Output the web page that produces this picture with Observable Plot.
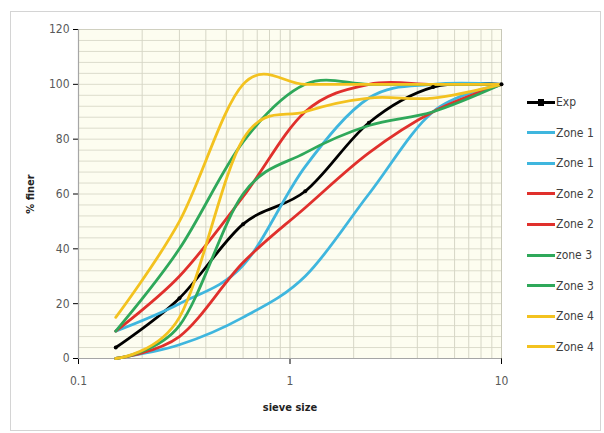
<!DOCTYPE html>
<html>
<head>
<meta charset="utf-8">
<script src="https://cdn.jsdelivr.net/npm/d3@7"></script>
<script src="https://cdn.jsdelivr.net/npm/@observablehq/plot@0.6"></script>
<style>
  html, body { margin: 0; padding: 0; background: #fff; }
  #wrap { position: relative; width: 604px; height: 433px; overflow: hidden; font-family: "DejaVu Sans Condensed", "Liberation Sans Narrow", "Open Sans", sans-serif; }
  #border { position: absolute; left: 10px; top: 11px; width: 591px; height: 420px; border: 1px solid #d4d4d4; box-sizing: border-box; pointer-events: none; }
  #chart { position: absolute; left: 0; top: 0; }
  #chart svg text { fill: #595959; }
  #chart g[aria-label="y-axis label"] text, #chart g[aria-label="x-axis label"] text { font-weight: bold; fill: #222; font-size: 11px; }
  #legend { position: absolute; left: 527px; top: 92px; }
  .item { position: absolute; left: 0; height: 20px; display: flex; align-items: center; white-space: nowrap; font-size: 12px; color: #404040; }
  .swatch { width: 28px; height: 3px; position: relative; margin-right: 1px; }
  .mark { position: absolute; left: 11px; top: -2px; width: 6px; height: 7px; background: #000; }
</style>
</head>
<body>
<div id="wrap">
  <div id="chart"></div>
  <div id="border"></div>
  <div id="legend"></div>
</div>
<script>
// sieve sizes (mm)
const sieve = [0.15, 0.3, 0.6, 1.18, 2.36, 4.75, 10];
// % finer
const exp        = [4, 22, 49, 61, 86, 99, 100];
const zone1Lower = [0, 5, 15, 30, 60, 90, 100];
const zone1Upper = [10, 20, 34, 70, 95, 100, 100];
const zone2Lower = [0, 8, 35, 55, 75, 90, 100];
const zone2Upper = [10, 30, 59, 90, 100, 100, 100];
const zone3Upper = [10, 40, 79, 100, 100, 100, 100];
const zone3Lower = [0, 12, 60, 75, 85, 90, 100];
const zone4Upper = [15, 50, 100, 100, 100, 100, 100];
const zone4Lower = [0, 15, 80, 90, 95, 95, 100];

const seriesNames  = ["Exp", "Zone 1", "Zone 1", "Zone 2", "Zone 2", "zone 3", "Zone 3", "Zone 4", "Zone 4"];
const seriesValues = [exp, zone1Lower, zone1Upper, zone2Lower, zone2Upper, zone3Upper, zone3Lower, zone4Upper, zone4Lower];
const seriesColors = ["#000000", "#3fb6de", "#3fb6de", "#e0302c", "#e0302c", "#2fa85a", "#2fa85a", "#f3c21f", "#f3c21f"];

const xTicks = [0.1, 1, 10];
const yTicks = [0, 20, 40, 60, 80, 100, 120];

const rows = [];
seriesValues.forEach((vals, s) => vals.forEach((v, i) => rows.push({s, x: sieve[i], y: v})));

const xMinor = [];
for (const d of [0.1, 1]) for (let k = 2; k <= 9; k++) xMinor.push(+(d * k).toFixed(2));
const yMinor = d3.range(4, 120, 4);

const marks = [
  Plot.frame({fill: "#fdfdf0", stroke: null}),
  Plot.ruleY(yMinor, {stroke: "#dcdccc", strokeWidth: 1}),
  Plot.ruleX(xMinor, {stroke: "#d6d6c6", strokeWidth: 1}),
  Plot.ruleX([1, 10], {stroke: "#c8c8b8", strokeWidth: 1}),
  Plot.ruleY([120], {stroke: "#d0d0c0"}),
  Plot.ruleX([0.1], {stroke: "#a6a6a6", strokeWidth: 1.2}),
  Plot.ruleY([0], {stroke: "#a6a6a6", strokeWidth: 1.2})
];
seriesValues.forEach((vals, s) => {
  marks.push(Plot.line(rows.filter(r => r.s === s), {x: "x", y: "y", stroke: seriesColors[s], strokeWidth: 2.8, curve: "cardinal"}));
});
marks.push(Plot.dot(rows.filter(r => r.s === 0), {x: "x", y: "y", r: 2, fill: "#000"}));

const chart = Plot.plot({
  width: 604,
  height: 433,
  marginLeft: 78,
  marginRight: 103,
  marginTop: 29,
  marginBottom: 75,
  style: {fontFamily: '"DejaVu Sans Condensed", "Liberation Sans Narrow", sans-serif', fontSize: "12px", background: "transparent"},
  x: {type: "log", domain: [0.1, 10], ticks: xTicks, tickFormat: d => String(d), tickSize: 6, tickPadding: 12,
      label: "sieve size", labelAnchor: "center", labelArrow: "none", labelOffset: 52},
  y: {domain: [0, 120], ticks: yTicks, tickSize: 5, tickPadding: 4,
      label: "% finer", labelAnchor: "center", labelArrow: "none", labelOffset: 52},
  marks
});
document.getElementById("chart").appendChild(chart);

const legend = document.getElementById("legend");
seriesNames.forEach((name, s) => {
  const item = document.createElement("div");
  item.className = "item";
  item.style.top = (s * 30.6) + "px";
  const sw = document.createElement("div");
  sw.className = "swatch";
  sw.style.background = seriesColors[s];
  if (s === 0) { const m = document.createElement("div"); m.className = "mark"; sw.appendChild(m); }
  item.appendChild(sw);
  const t = document.createElement("span");
  t.textContent = name;
  item.appendChild(t);
  legend.appendChild(item);
});
</script>
</body>
</html>
